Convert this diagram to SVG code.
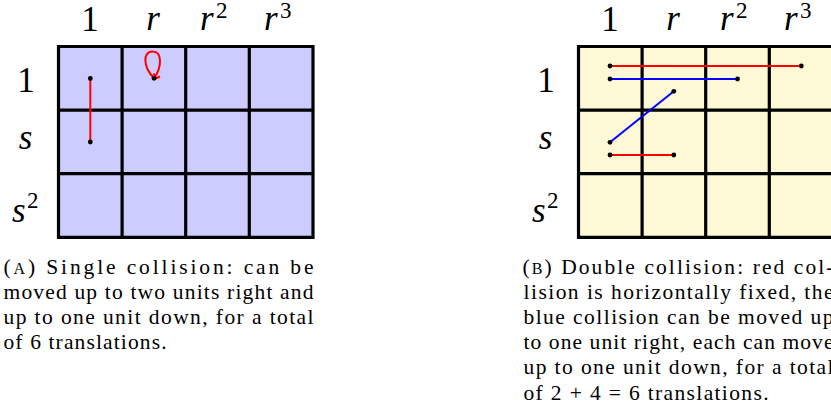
<svg xmlns="http://www.w3.org/2000/svg" width="831" height="417" viewBox="0 0 831 417">
<style>
  text { fill: #000; }
  .lbl { font-size: 35px; }
  .it { font-style: italic; }
  .sup { font-size: 23px; }
  .cap { font-size: 21.5px; }
  .sc { font-size: 16px; }
  .grid { fill: none; stroke: #000; stroke-width: 3.2; stroke-linecap: square; }
  .red { stroke: #ff0000; stroke-width: 2; fill: none; }
  .blue { stroke: #0000ff; stroke-width: 2; fill: none; }
  .dot { fill: #000; }
</style>
<defs>
  <g id="labels" font-family="Liberation Serif, serif">
    <text class="lbl" x="90" y="31" text-anchor="middle">1</text>
    <text class="lbl it" x="153" y="30" text-anchor="middle">r</text>
    <text class="lbl it" x="200" y="30">r</text>
    <text class="sup" x="216" y="18">2</text>
    <text class="lbl it" x="264" y="30">r</text>
    <text class="sup" x="280" y="18">3</text>
    <text class="lbl" x="26" y="92" text-anchor="middle">1</text>
    <text class="lbl it" x="25.5" y="149" text-anchor="middle">s</text>
    <text class="lbl it" x="12" y="221.5">s</text>
    <text class="sup" x="27" y="208">2</text>
  </g>
  <path id="gridlines" class="grid" d="M58.5,46.5 H313 V237.3 H58.5 Z M122.1,46.5 V237.3 M185.7,46.5 V237.3 M249.3,46.5 V237.3 M58.5,110.1 H313 M58.5,173.7 H313"/>
</defs>

<g id="panel-a">
  <g id="grid-a">
    <rect x="58.5" y="46.5" width="254.5" height="190.8" fill="#ccccff"/>
    <use href="#gridlines"/>
    <use href="#labels"/>
  </g>
  <g id="connectors-a">
    <line class="red" x1="90.3" y1="78.5" x2="90.3" y2="142"/>
    <path class="red" d="M154,78.3 C143,67 142.5,51.5 152.5,51.5 C162.5,51.5 162,67 154,78.3"/>
    <path class="red" d="M153.5,73.5 L156,78.5 L160,76.5"/>
  </g>
  <g id="nodes-a">
    <circle class="dot" cx="90.3" cy="78.5" r="2.4"/>
    <circle class="dot" cx="90.3" cy="142" r="2.4"/>
    <circle class="dot" cx="154" cy="78.3" r="2.4"/>
  </g>
  <g id="caption-a" font-family="Liberation Serif, serif">
    <text class="cap" x="3.5" y="274" textLength="310" lengthAdjust="spacing">(<tspan class="sc">A</tspan>) Single collision:  can be</text>
    <text class="cap" x="3.5" y="299.1" textLength="310" lengthAdjust="spacing">moved up to two units right and</text>
    <text class="cap" x="3.5" y="324.2" textLength="310" lengthAdjust="spacing">up to one unit down, for a total</text>
    <text class="cap" x="3.5" y="349.3" textLength="163" lengthAdjust="spacing">of 6 translations.</text>
  </g>
</g>

<g id="panel-b">
  <g id="grid-b" transform="translate(520,0)">
    <rect x="58.5" y="46.5" width="254.5" height="190.8" fill="#fdf8d6"/>
    <use href="#gridlines"/>
    <use href="#labels"/>
  </g>
  <g id="connectors-b" transform="translate(520,0)">
    <line class="red" x1="90" y1="66" x2="281.3" y2="66"/>
    <line class="blue" x1="90" y1="79" x2="217.5" y2="79"/>
    <line class="blue" x1="153.8" y1="91.3" x2="90" y2="142.3"/>
    <line class="red" x1="90" y1="155" x2="153.8" y2="155"/>
  </g>
  <g id="nodes-b" transform="translate(520,0)">
    <circle class="dot" cx="90" cy="66" r="2.4"/>
    <circle class="dot" cx="281.3" cy="66" r="2.4"/>
    <circle class="dot" cx="90" cy="79" r="2.4"/>
    <circle class="dot" cx="217.5" cy="79" r="2.4"/>
    <circle class="dot" cx="153.8" cy="91.3" r="2.4"/>
    <circle class="dot" cx="90" cy="142.3" r="2.4"/>
    <circle class="dot" cx="90" cy="155" r="2.4"/>
    <circle class="dot" cx="153.8" cy="155" r="2.4"/>
  </g>
  <g id="caption-b" font-family="Liberation Serif, serif">
    <text class="cap" x="522.5" y="274" textLength="311" lengthAdjust="spacing">(<tspan class="sc">B</tspan>) Double collision:  red col-</text>
    <text class="cap" x="523.5" y="299.1" textLength="310" lengthAdjust="spacing">lision is horizontally fixed, the</text>
    <text class="cap" x="523.5" y="324.2" textLength="310" lengthAdjust="spacing">blue collision can be moved up</text>
    <text class="cap" x="523.5" y="349.3" textLength="310" lengthAdjust="spacing">to one unit right, each can move</text>
    <text class="cap" x="523.5" y="374.4" textLength="310" lengthAdjust="spacing">up to one unit down, for a total</text>
    <text class="cap" x="523.5" y="399.5" textLength="245" lengthAdjust="spacing">of 2 + 4 = 6 translations.</text>
  </g>
</g>
</svg>
